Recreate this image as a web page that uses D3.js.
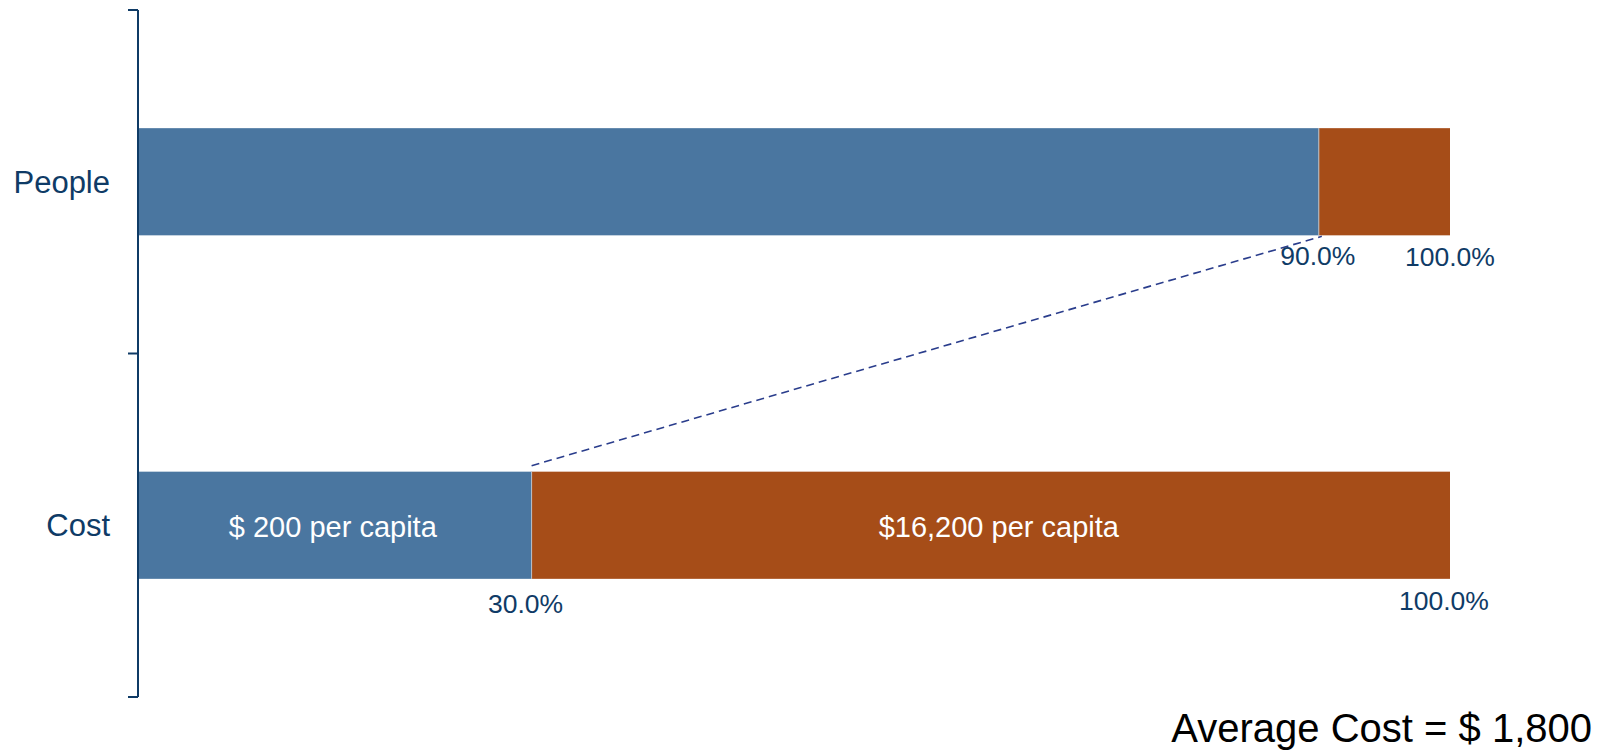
<!DOCTYPE html>
<html>
<head>
<meta charset="utf-8">
<script src="https://cdn.jsdelivr.net/npm/d3@7"></script>
<style>
  html, body { margin: 0; padding: 0; background: #ffffff; }
  svg { display: block; font-family: "Liberation Sans", Arial, sans-serif; }
</style>
</head>
<body>
<svg id="chart" width="1607" height="750"></svg>
<script>
// Rows of the stacked 100% bars
const categories = ["People", "Cost"];
// Cumulative share (%) where the low-cost group ends on each row
const lowGroupShare = [90, 30];
// Total of each row (%)
const rowTotals = [100, 100];
// Per-capita cost labels written inside the Cost row segments
const costSegmentLabels = ["$ 200 per capita", "$16,200 per capita"];
const averageCostLabel = "Average Cost = $ 1,800";

const colors = { low: "#4a76a0", high: "#a64d18", axis: "#0f3b66", dash: "#2a3d8c" };

const svg = d3.select("#chart");

const x = d3.scaleLinear().domain([0, 100]).range([138, 1450]);
const y = d3.scaleBand().domain(categories).range([10, 697]).padding(0);
const barH = y.step() * 0.312;
const barTop = c => y(c) + y.bandwidth() / 2 - barH / 2;

const rows = categories.map((c, i) => ({ cat: c, low: lowGroupShare[i], total: rowTotals[i] }));

// Blue (low-cost group) segments
svg.append("g").selectAll("rect").data(rows).join("rect")
  .attr("x", x(0))
  .attr("y", d => barTop(d.cat))
  .attr("width", d => x(d.low) - x(0))
  .attr("height", barH)
  .attr("fill", colors.low);

// Orange (high-cost group) segments
svg.append("g").selectAll("rect").data(rows).join("rect")
  .attr("x", d => x(d.low))
  .attr("y", d => barTop(d.cat))
  .attr("width", d => x(d.total) - x(d.low))
  .attr("height", barH)
  .attr("fill", colors.high);

// thin separator between segments
svg.append("g").selectAll("line").data(rows).join("line")
  .attr("x1", d => x(d.low)).attr("x2", d => x(d.low))
  .attr("y1", d => barTop(d.cat)).attr("y2", d => barTop(d.cat) + barH)
  .attr("stroke", "#b9c2cc").attr("stroke-width", 1);

// Category axis: vertical line with ticks at band boundaries
const tickYs = [y.range()[0], ...categories.slice(1).map(c => y(c)), y.range()[1]];
const axisG = svg.append("g");
axisG.append("line")
  .attr("x1", x(0)).attr("x2", x(0))
  .attr("y1", tickYs[0]).attr("y2", tickYs[tickYs.length - 1])
  .attr("stroke", colors.axis).attr("stroke-width", 2);
axisG.selectAll(".tick").data(tickYs).join("line")
  .attr("x1", x(0) - 10).attr("x2", x(0))
  .attr("y1", d => d).attr("y2", d => d)
  .attr("stroke", colors.axis).attr("stroke-width", 2);
axisG.selectAll("text").data(categories).join("text")
  .attr("x", x(0) - 28)
  .attr("y", c => y(c) + y.bandwidth() / 2 + 11)
  .attr("text-anchor", "end")
  .attr("font-size", 31)
  .attr("fill", colors.axis)
  .text(c => c);

// Dashed connector from the cost split to the people split
const people = rows[0], cost = rows[1];
svg.append("line")
  .attr("x1", x(cost.low)).attr("y1", barTop(cost.cat) - 6)
  .attr("x2", x(people.low) + 3).attr("y2", barTop(people.cat) + barH + 1)
  .attr("stroke", colors.dash).attr("stroke-width", 1.6)
  .attr("stroke-dasharray", "8,5");

// Cumulative percentage labels under each bar
const pctLabels = [];
rows.forEach((r, i) => {
  const dx = i === 0 ? -1 : -6;
  const dy = i === 0 ? 30 : 34;
  pctLabels.push({ v: r.low, x: x(r.low) + dx, y: barTop(r.cat) + barH + dy });
  pctLabels.push({ v: r.total, x: x(r.total) + (i === 0 ? 0 : dx), y: barTop(r.cat) + barH + dy - (i === 0 ? -1 : 3) });
});
svg.append("g").selectAll("text").data(pctLabels).join("text")
  .attr("x", d => d.x)
  .attr("y", d => d.y)
  .attr("text-anchor", "middle")
  .attr("font-size", 26.5)
  .attr("fill", colors.axis)
  .text(d => d3.format(".1f")(d.v) + "%");

// Per-capita labels inside the Cost bar
const segs = [
  { label: costSegmentLabels[0], a: 0, b: cost.low },
  { label: costSegmentLabels[1], a: cost.low, b: cost.total }
];
svg.append("g").selectAll("text").data(segs).join("text")
  .attr("x", (d, i) => (x(d.a) + x(d.b)) / 2 + (i === 1 ? 8 : -2))
  .attr("y", barTop(cost.cat) + barH / 2 + 12)
  .attr("text-anchor", "middle")
  .attr("font-size", 29)
  .attr("fill", "#ffffff")
  .text(d => d.label);

// Average cost note
svg.append("text")
  .attr("x", 1592).attr("y", 742)
  .attr("text-anchor", "end")
  .attr("font-size", 40)
  .attr("fill", "#000000")
  .text(averageCostLabel);
</script>
</body>
</html>
